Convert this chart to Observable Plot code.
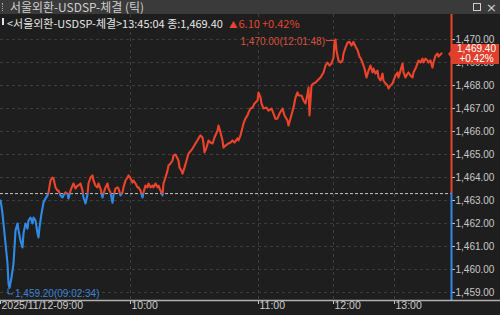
<!DOCTYPE html>
<html><head><meta charset="utf-8">
<script src="https://cdn.jsdelivr.net/npm/d3@7"></script>
<script src="https://cdn.jsdelivr.net/npm/@observablehq/plot@0.6"></script>
<style>
html,body{margin:0;padding:0;background:#1e1e1e;width:500px;height:315px;overflow:hidden;}
#title{position:relative;height:14px;background:#3a3a3a;color:#cfcfcf;font:11.5px "Noto Sans CJK KR",sans-serif;white-space:nowrap;overflow:hidden;}
#title .t{position:absolute;left:10px;top:0;line-height:14px;}
#title .grip{position:absolute;left:2px;top:3px;height:8px;border-left:1px dotted #aaa;}
#title .sq{position:absolute;left:473px;top:3px;width:6px;height:6px;border:1px solid #cfcfcf;}
#title .x{position:absolute;left:486px;top:0;line-height:13px;font:13px "DejaVu Sans",sans-serif;color:#cfcfcf;}
#chart{position:relative;width:500px;height:301px;}
#chart svg{display:block;}
.info{position:absolute;top:1px;line-height:14px;font:11px "Noto Sans CJK KR",sans-serif;white-space:nowrap;}
.bar{position:absolute;left:2px;top:4px;width:2px;height:7px;background:#e0e0e0;}
.tri{font-size:8.5px;margin-right:1px;}
</style></head><body>
<div id="title"><div class="grip"></div><div class="t" id="ttl"></div><div class="sq"></div><div class="x">×</div></div>
<div id="chart">
  <div class="bar"></div>
  <div class="info" id="info1" style="left:7px;color:#e6e6e6"></div>
  <div class="info" id="info2" style="left:229px;color:#e8432d"><span class="tri">▲</span><span id="chg"></span></div>
  <div class="info" id="info3" style="left:262px;color:#e8432d"></div>
</div>
<script>
// ---- data ----
const seriesName = "서울외환-USDSP-체결";
const lastTime = "13:45:04";
const prevClose = 1463.30;
const lastPrice = 1469.40;
const change = 6.10;
const changePct = 0.42;
const lowPrice = 1459.20, lowTime = "09:02:34";
const highPrice = 1470.00, highTime = "12:01:48";
const yTicks = [1459,1460,1461,1462,1463,1464,1465,1466,1467,1468,1469,1470];
const xTickIdx = [0,130,258,333,394];
const xTickLabels = ["2025/11/12-09:00","10:00","11:00","12:00","13:00"];
const xEnd = 451;
const yBottom = 1458.65, yTop = 1471.09;
const trades = [[0,1463.00],[1,1462.75],[2,1462.43],[3,1462.00],[5,1461.13],[7,1460.26],[8,1459.39],[9,1459.20],[11,1459.65],[13,1460.26],[14,1460.96],[15,1461.70],[17,1462.00],[18,1461.70],[20,1461.26],[22,1460.96],[23,1461.57],[25,1462.00],[27,1461.78],[28,1462.13],[30,1462.26],[32,1462.00],[33,1462.26],[35,1462.13],[37,1461.57],[38,1461.39],[39,1461.83],[41,1462.43],[43,1462.91],[45,1463.09],[47,1463.22],[48,1463.35],[50,1463.87],[52,1464.00],[53,1463.96],[55,1463.57],[57,1463.43],[58,1463.43],[60,1463.22],[62,1463.13],[63,1463.22],[65,1463.35],[67,1463.30],[68,1463.09],[70,1463.43],[72,1463.65],[73,1463.74],[75,1463.52],[77,1463.65],[78,1463.65],[80,1463.74],[82,1463.43],[83,1463.13],[85,1462.87],[87,1463.26],[88,1463.74],[90,1464.00],[92,1464.09],[93,1463.87],[95,1463.65],[97,1463.57],[98,1463.74],[100,1463.52],[102,1463.13],[103,1463.30],[105,1463.57],[107,1463.74],[108,1463.52],[110,1463.35],[112,1462.90],[113,1463.22],[115,1463.52],[117,1463.57],[118,1463.52],[120,1463.22],[122,1463.35],[123,1463.57],[125,1463.87],[127,1464.00],[128,1464.09],[130,1463.96],[132,1463.78],[133,1463.87],[135,1463.74],[137,1463.57],[138,1463.57],[140,1463.43],[142,1463.13],[143,1463.35],[145,1463.65],[147,1463.57],[148,1463.74],[150,1463.57],[152,1463.65],[153,1463.57],[155,1463.74],[157,1463.57],[158,1463.65],[160,1463.43],[162,1463.22],[163,1463.74],[165,1464.00],[167,1464.30],[168,1464.52],[170,1464.61],[172,1464.74],[173,1464.96],[175,1465.00],[178,1464.74],[179,1464.43],[181,1464.30],[182,1464.17],[184,1464.43],[186,1464.74],[188,1465.04],[192,1465.26],[195,1465.48],[198,1465.70],[200,1465.83],[202,1465.74],[203,1465.48],[204,1465.09],[206,1465.30],[208,1465.61],[210,1465.52],[212,1465.48],[214,1465.74],[217,1466.04],[218,1466.26],[220,1465.96],[222,1465.61],[223,1465.30],[225,1465.39],[228,1465.48],[230,1465.52],[232,1465.61],[234,1465.52],[237,1465.70],[238,1465.61],[240,1465.83],[242,1466.17],[243,1466.35],[245,1466.57],[247,1466.70],[248,1466.83],[250,1467.00],[252,1467.04],[254,1467.22],[257,1467.35],[258,1467.70],[260,1467.48],[261,1467.22],[263,1467.00],[266,1467.04],[268,1466.91],[271,1467.00],[273,1466.78],[275,1466.55],[277,1466.57],[279,1466.78],[282,1467.00],[284,1466.70],[287,1466.48],[288,1466.26],[290,1466.57],[293,1467.04],[295,1467.48],[297,1467.70],[298,1467.57],[301,1467.57],[303,1467.35],[305,1467.22],[307,1467.65],[308,1467.91],[309,1466.70],[311,1468.00],[313,1468.09],[315,1468.13],[317,1468.22],[320,1468.35],[323,1468.57],[325,1468.87],[327,1469.00],[329,1468.87],[331,1468.96],[333,1469.22],[334,1469.87],[335,1470.00],[336,1469.52],[338,1469.09],[340,1469.00],[342,1469.09],[343,1469.39],[345,1469.65],[347,1469.87],[349,1469.90],[351,1469.74],[353,1469.90],[355,1469.70],[357,1469.55],[359,1469.25],[360,1469.20],[362,1469.00],[364,1468.74],[366,1468.35],[368,1468.65],[370,1468.87],[372,1468.57],[373,1468.74],[375,1468.52],[377,1468.65],[378,1468.35],[380,1468.22],[382,1468.52],[383,1468.22],[385,1468.09],[387,1468.00],[388,1467.87],[390,1468.00],[392,1468.09],[393,1468.22],[395,1468.43],[397,1468.57],[398,1468.35],[400,1468.65],[402,1468.96],[403,1468.57],[405,1468.35],[407,1468.52],[408,1468.57],[410,1468.43],[412,1468.35],[413,1468.57],[415,1468.74],[417,1468.96],[418,1469.09],[420,1469.00],[422,1469.17],[423,1469.00],[425,1469.17],[427,1469.09],[428,1469.00],[430,1469.09],[432,1468.78],[433,1469.00],[435,1469.30],[437,1469.39],[438,1469.26],[440,1469.35],[441,1469.40]];

// ---- styles ----
const RED = "#ec432b", BLUE = "#2f8ae6", BG = "#1e1e1e";
const fmt = d3.format(",.2f");

document.getElementById("ttl").textContent = seriesName + " (틱)";
document.getElementById("info1").textContent = "<" + seriesName + ">" + lastTime + " 종:" + fmt(lastPrice);
document.getElementById("chg").textContent = change.toFixed(2);
document.getElementById("info3").textContent = "+" + changePct.toFixed(2) + "%";

// fit header texts to the reference widths
function fitWidth(el, target) {
  const w = el.getBoundingClientRect().width;
  if (w > 0) {
    const fs = parseFloat(getComputedStyle(el).fontSize);
    el.style.fontSize = (fs * target / w).toFixed(2) + "px";
  }
}
fitWidth(document.getElementById("ttl"), 134);
fitWidth(document.getElementById("info1"), 216);

const lowPt = trades.find(d => d[1] === lowPrice);
const highPt = trades.find(d => d[1] === highPrice);
const lastPt = trades[trades.length - 1];

const gradientMark = (index, scales) => {
  const yb = scales.y(prevClose);
  const defs = d3.create("svg:defs");
  const lg = defs.append("linearGradient").attr("id", "split")
    .attr("gradientUnits", "userSpaceOnUse")
    .attr("x1", 0).attr("x2", 0).attr("y1", yb - 0.5).attr("y2", yb + 0.5);
  lg.append("stop").attr("offset", 0).attr("stop-color", RED);
  lg.append("stop").attr("offset", 1).attr("stop-color", BLUE);
  return defs.node();
};

const bottomLine = (index, scales, values, dims) => {
  const y = dims.height - dims.marginBottom + 0.5;
  return d3.create("svg:line").attr("x1", 0).attr("x2", dims.width)
    .attr("y1", y).attr("y2", y).attr("stroke", "#b0b0b0").attr("stroke-width", 1.3).node();
};

const annotations = (index, scales) => {
  const g = d3.create("svg:g").attr("font-size", 10);
  // low
  const lx = scales.x(lowPt[0]), ly = scales.y(lowPt[1]);
  g.append("path").attr("d", `M${lx - 1},${ly + 1}V${ly + 6.5}H${lx + 4}`)
    .attr("fill", "none").attr("stroke", "#3d84d6").attr("stroke-width", 1);
  g.append("text").attr("x", lx + 6).attr("y", ly + 6.5).attr("dy", "0.32em")
    .attr("text-anchor", "start").attr("fill", "#3d84d6").text(fmt(lowPrice) + "(" + lowTime + ")");
  // high
  const hx = scales.x(highPt[0]), hy = scales.y(highPt[1]);
  g.append("path").attr("d", `M${hx},${hy + 1.5}H${hx - 9}`)
    .attr("fill", "none").attr("stroke", "#d9513c").attr("stroke-width", 1);
  g.append("text").attr("x", hx - 10).attr("y", hy + 2.5).attr("dy", "0.32em")
    .attr("text-anchor", "end").attr("fill", "#d9513c").text(fmt(highPrice) + "(" + highTime + ")");
  return g.node();
};

const priceBox = (index, scales, values, dims) => {
  const xa = scales.x(xEnd) + 1, yc = scales.y(lastPt[1]) + 1.2, r = dims.width - 1;
  const g = d3.create("svg:g");
  g.append("path").attr("d",
    `M${xa - 4},${yc}L${xa},${yc - 5}L${xa},${yc - 10}L${r},${yc - 10}L${r},${yc + 10}L${xa},${yc + 10}L${xa},${yc + 5}Z`)
    .attr("fill", "#e0402b");
  const cx = (xa + r) / 2 + 1;
  g.append("text").attr("x", cx).attr("y", yc - 4.8).attr("dy", "0.32em").attr("text-anchor", "middle")
    .attr("fill", "#fff").attr("font-size", 10).text(fmt(lastPrice));
  g.append("text").attr("x", cx).attr("y", yc + 5).attr("dy", "0.32em").attr("text-anchor", "middle")
    .attr("fill", "#fff").attr("font-size", 10).text("+" + changePct.toFixed(2) + "%");
  return g.node();
};

const chart = Plot.plot({
  width: 500, height: 301,
  marginTop: 0, marginBottom: 15, marginLeft: 0, marginRight: 49,
  style: {background: BG, color: "#c8c8c8", fontFamily: "'Liberation Sans', Arial, sans-serif", fontSize: "10px"},
  x: {domain: [0, xEnd], ticks: xTickIdx, tickSize: 4, tickFormat: () => "", label: null},
  y: {domain: [yBottom, yTop], axis: "right", ticks: yTicks, tickFormat: fmt, tickSize: 3, tickPadding: 1, label: null},
  marks: [
    gradientMark,
    Plot.ruleY(yTicks, {stroke: "#3e3e3e", strokeDasharray: "3,3"}),
    Plot.ruleX(xTickIdx.slice(1), {stroke: "#3e3e3e", strokeDasharray: "3,3"}),
    Plot.ruleY([prevClose], {stroke: "#c8c8c8", strokeDasharray: "3,2"}),
    Plot.line(trades, {x: d => d[0], y: d => d[1], stroke: "url(#split)", strokeWidth: 2.1}),
    Plot.ruleX([xEnd], {stroke: "url(#split)", strokeWidth: 2}),
    bottomLine,
    Plot.text(xTickLabels, {x: (d, i) => xTickIdx[i], text: d => d, frameAnchor: "bottom", textAnchor: "start", dx: 1, dy: 8, fontSize: 10.5, fill: "#cccccc"}),
    annotations,
    priceBox
  ]
});
document.getElementById("chart").prepend(chart);
</script>
</body></html>
